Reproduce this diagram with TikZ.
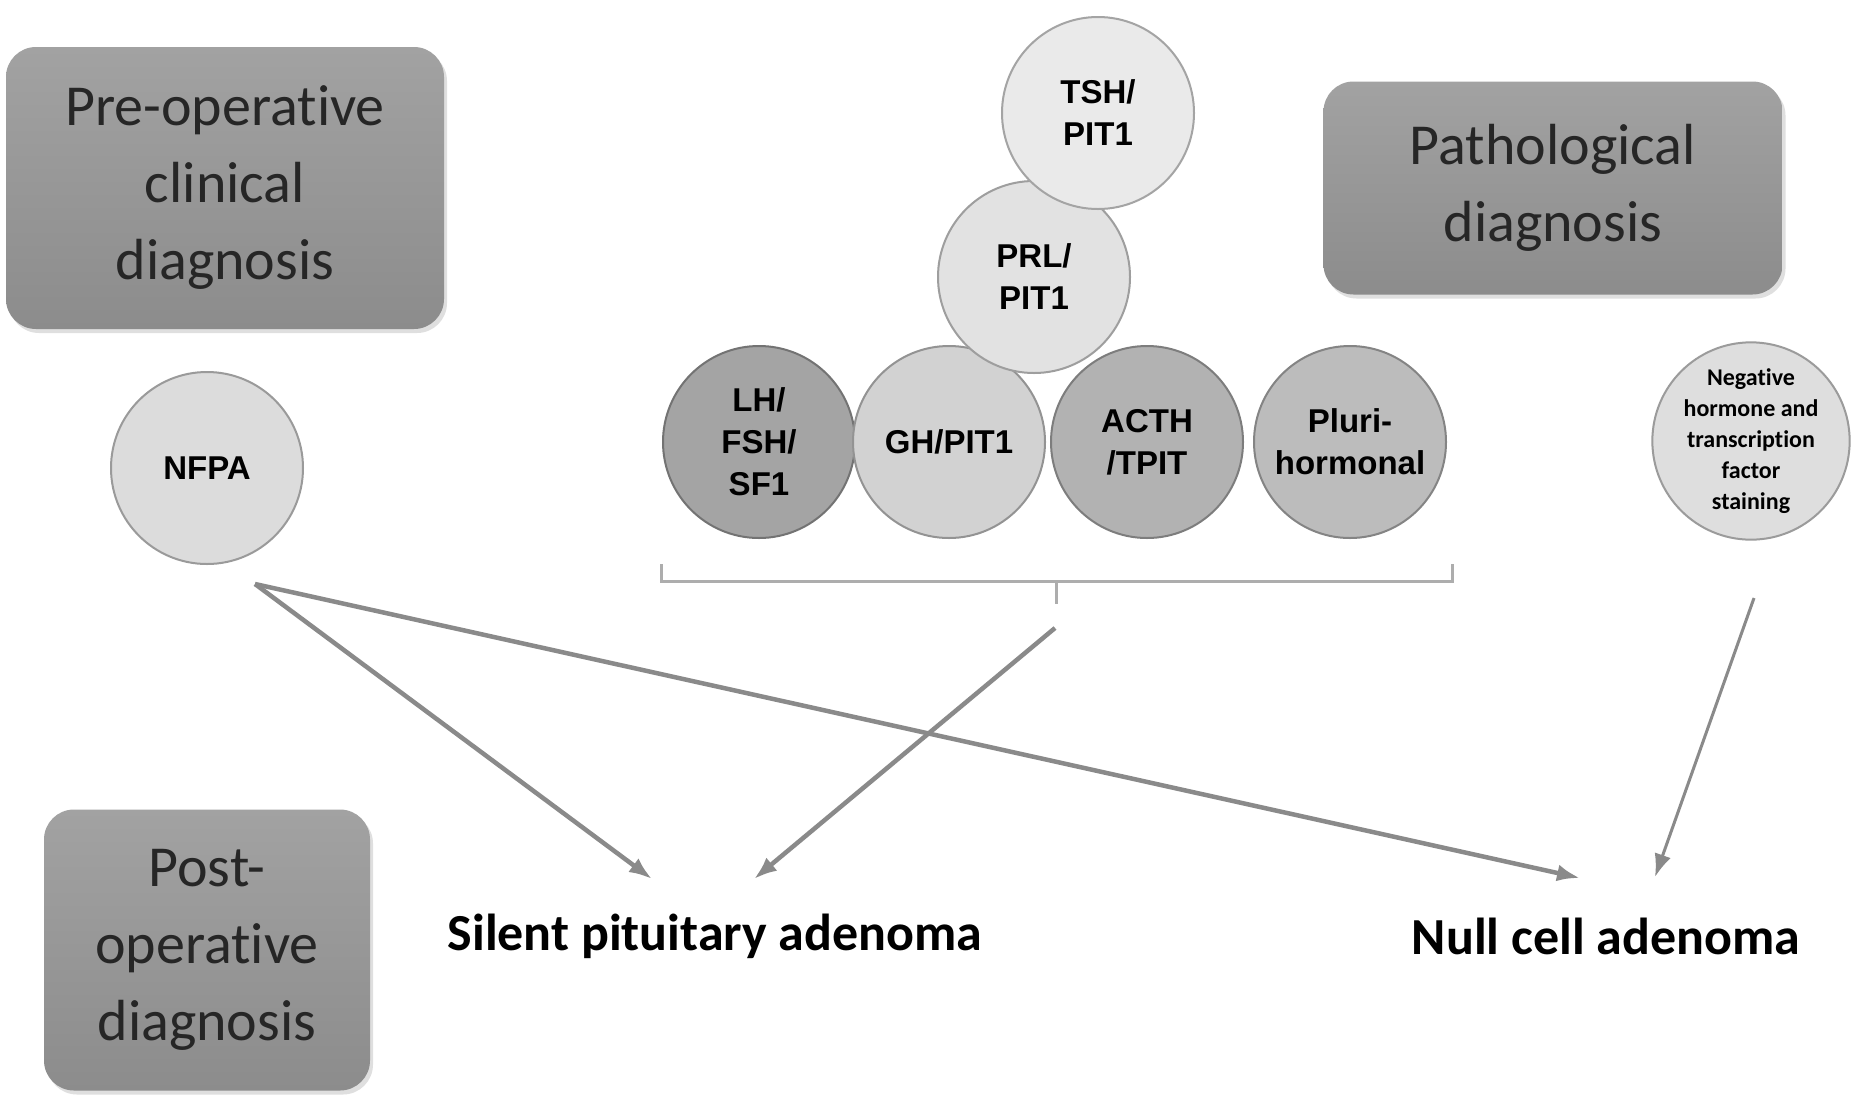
\documentclass[tikz,border=0pt]{standalone}
\usepackage{fontspec}
\setmainfont{Carlito}[Ligatures=NoCommon]
\newfontfamily\cellfont{Liberation Sans}
\usetikzlibrary{arrows.meta,shadows}
\definecolor{boxtop}{HTML}{A2A2A2}
\definecolor{boxbot}{HTML}{8C8C8C}
\definecolor{linkgray}{HTML}{8A8A8A}
\definecolor{bracegray}{HTML}{ADADAD}
\definecolor{nfpafill}{HTML}{DCDCDC}
\definecolor{lhfill}{HTML}{A4A4A4}
\definecolor{ghfill}{HTML}{D2D2D2}
\definecolor{acthfill}{HTML}{B2B2B2}
\definecolor{plurifill}{HTML}{BCBCBC}
\definecolor{prlfill}{HTML}{E2E2E2}
\definecolor{tshfill}{HTML}{EAEAEA}
\definecolor{negfill}{HTML}{DEDEDE}
\tikzset{
  stage/.style={rounded corners=30pt, top color=boxtop, bottom color=boxbot, align=center,
    font=\fontsize{58}{77}\selectfont, inner sep=0pt, text=black!85,
    drop shadow={opacity=0.25, shadow xshift=3pt, shadow yshift=-4pt}},
  cell/.style={circle, draw=#1!70!black, fill=#1, line width=2pt, minimum size=192pt, inner sep=0pt,
    align=center, font=\cellfont\bfseries\fontsize{33}{42}\selectfont},
  result/.style={font=\bfseries\fontsize{52}{60}\selectfont},
}
\begin{document}
\begin{tikzpicture}[x=1pt, y=-1pt, >={Latex[length=23pt,width=17pt]}]
\useasboundingbox[fill=white] (0,0) rectangle (1858,1096);

% stage boxes
\node[stage, minimum width=438pt, minimum height=282pt] (pre) at (225,188) {Pre-operative\\clinical\\diagnosis};
\node[stage, minimum width=459pt, minimum height=213pt] (path) at (1553,188) {Pathological\\diagnosis};
\node[stage, minimum width=326pt, minimum height=281pt] (post) at (207,950) {Post-\\operative\\diagnosis};

% circles
\node[cell=nfpafill] (nfpa) at (207,468) {NFPA};
\node[cell=lhfill] (lh) at (759,442) {LH/\\FSH/\\SF1};
\node[cell=ghfill] (gh) at (949,442) {GH/PIT1};
\node[cell=acthfill] (acth) at (1147,442) {ACTH\\/TPIT};
\node[cell=plurifill] (pluri) at (1350,442) {Pluri-\\hormonal};
\node[cell=prlfill] (prl) at (1034,277) {PRL/\\PIT1};
\node[cell=tshfill] (tsh) at (1098,113) {TSH/\\PIT1};
\node[cell=negfill, font=\bfseries\fontsize{24}{31}\selectfont] (neg) at (1751,441)
  {Negative\\hormone and\\transcription\\factor\\staining};

% bracket under the row
\draw[bracegray, line width=3pt] (661,564) -- (661,581) -- (1452,581) -- (1452,564);
\draw[bracegray, line width=3pt] (1056,581) -- (1056,604);

% results
\node[result] (silent) at (715,936) {Silent pituitary adenoma};
\node[result] (null) at (1606,936) {Null cell adenoma};

\coordinate (nfpa out) at (255,584);
\coordinate (brace out) at (1055,628);
\coordinate (neg out) at (1754,598);
\coordinate (silent a) at (652,879);
\coordinate (silent b) at (754,879);
\coordinate (null a) at (1580,878);
\coordinate (null b) at (1655,877);

\draw[->, linkgray, line width=4.5pt] (nfpa out) -- (silent a);
\draw[->, linkgray, line width=4.5pt] (nfpa out) -- (null a);
\draw[->, linkgray, line width=4.5pt] (brace out) -- (silent b);
\draw[->, linkgray, line width=3pt] (neg out) -- (null b);

\end{tikzpicture}
\end{document}
